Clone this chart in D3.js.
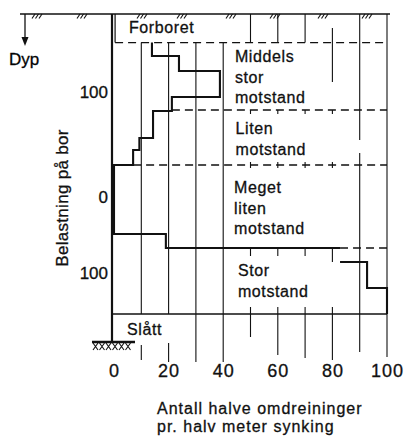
<!DOCTYPE html>
<html>
<head>
<meta charset="utf-8">
<script src="https://cdn.jsdelivr.net/npm/d3@7"></script>
<style>
  body { margin: 0; background: #fff; }
  svg { display: block; font-family: "Liberation Sans", Arial, Helvetica, sans-serif; }
  svg text { stroke: #111; stroke-width: 0.3px; }
</style>
</head>
<body>
<div id="chart"></div>
<script>
// sounding profile: count (halve omdreininger) vs depth
const profileDepth1 = [1.43, 2.1, 2.85, 4.15, 4.85, 6.2, 6.8, 7.55, 11.0, 11.7];
const profileCount1 = [13.9, 23.8, 38.8, 21.2, 14.3, 9.3, 7.0, 0, 19.0, 82.8];
const profileDepth2 = [12.4, 12.4, 13.7, 15.0];
const profileCount2 = [82.8, 92.7, 100, 100];

// soil layers
const layerTop = [0, 1.43, 4.8, 7.55, 11.7, 15.0];
const layerText = [["Forboret"], ["Middels", "stor", "motstand"], ["Liten", "motstand"],
                   ["Meget", "liten", "motstand"], ["Stor", "motstand"], ["Slått"]];
const boundaryFrom = [0.4, 21.2, 7.0, 82.8];   // where the dashed boundary starts

const xTicks = [0, 20, 40, 60, 80, 100];
const loadLabels = ["100", "0", "100"];
const loadDepth = [4.2, 9.45, 13.25];

// set the dimensions and margins of the graph
const margin = {top: 14, right: 18, bottom: 74, left: 114},
    width = 405,
    height = 438;

var svg = d3.select("#chart")
    .append("svg")
        .attr("width", width)
        .attr("height", height);

var x = d3.scaleLinear()
    .domain([0, 100])
    .range([margin.left, width - margin.right]);

var y = d3.scaleLinear()
    .domain([0, 17.5])
    .range([margin.top, height - margin.bottom]);

const ink = "#111";

// vertical grid lines (pieces, in depth units)
const grid = [
    [10, [[1.43, 15.0], [16.55, 17.3]]],
    [20, [[1.43, 15.0], [16.45, 17.4]]],
    [30, [[1.43, 17.4]]],
    [40, [[1.43, 17.4]]],
    [50, [[0, 1.43], [4.8, 5.0], [7.4, 7.7], [11.7, 12.1], [14.65, 16.15]]],
    [60, [[0, 1.43], [4.8, 5.0], [7.4, 7.7], [11.7, 12.1], [14.65, 17.05]]],
    [70, [[0, 1.43], [4.8, 5.0], [7.4, 7.7], [11.7, 12.1], [14.65, 17.2]]],
    [80, [[0.7, 3.4], [4.8, 5.0], [7.4, 7.7], [11.7, 12.4], [14.65, 17.3]]],
    [90, [[0, 6.3], [6.95, 16.9]]],
    [100, [[0, 17.15]]]
];
grid.forEach(function(g) {
    g[1].forEach(function(p) {
        svg.append("line")
            .attr("x1", x(g[0])).attr("x2", x(g[0]))
            .attr("y1", y(p[0])).attr("y2", y(p[1]))
            .attr("stroke", ink).attr("stroke-width", 1.1);
    });
});

// ground line with hatching
svg.append("line")
    .attr("x1", 20).attr("x2", 390)
    .attr("y1", y(0)).attr("y2", y(0))
    .attr("stroke", ink).attr("stroke-width", 1.6);
[32, 77, 137, 177, 226, 270, 318, 362].forEach(function(gx) {
    for (var k = 0; k < 3; k++) {
        svg.append("line")
            .attr("x1", gx + k * 3.5).attr("y1", y(0) + 4.5)
            .attr("x2", gx + k * 3.5 + 3).attr("y2", y(0))
            .attr("stroke", ink).attr("stroke-width", 1.1);
    }
});

// depth arrow
svg.append("line")
    .attr("x1", 25).attr("x2", 25)
    .attr("y1", y(0)).attr("y2", 40)
    .attr("stroke", ink).attr("stroke-width", 1.3);
svg.append("path")
    .attr("d", "M21.5,37 L28.5,37 L25,46 Z")
    .attr("fill", ink);
svg.append("text")
    .attr("x", 9).attr("y", 65)
    .style("font-size", "17px")
    .text("Dyp");

// main axis
svg.append("line")
    .attr("x1", x(0) - 2).attr("x2", x(0) - 2)
    .attr("y1", y(0)).attr("y2", y(16.4))
    .attr("stroke", ink).attr("stroke-width", 2.2);

// ground symbol at the bottom (Slått)
svg.append("line")
    .attr("x1", 92).attr("x2", 135)
    .attr("y1", y(16.4)).attr("y2", y(16.4))
    .attr("stroke", ink).attr("stroke-width", 2.4);
for (var hx = 93; hx < 132; hx += 6.5) {
    svg.append("path")
        .attr("d", "M" + hx + "," + (y(16.4) + 1) + " l5,7 M" + (hx + 5) + "," + (y(16.4) + 1) + " l-5,7")
        .attr("stroke", ink).attr("stroke-width", 1.1).attr("fill", "none");
}

// Forboret box edge
svg.append("line")
    .attr("x1", x(boundaryFrom[0])).attr("x2", x(boundaryFrom[0]))
    .attr("y1", y(0)).attr("y2", y(layerTop[1]))
    .attr("stroke", ink).attr("stroke-width", 1.2);

// layer boundaries
boundaryFrom.forEach(function(v, i) {
    svg.append("line")
        .attr("x1", x(v)).attr("x2", x(100))
        .attr("y1", y(layerTop[i + 1])).attr("y2", y(layerTop[i + 1]))
        .attr("stroke", ink).attr("stroke-width", 1.3)
        .attr("stroke-dasharray", "8,5");
});
svg.append("line")
    .attr("x1", x(0) - 3).attr("x2", x(100))
    .attr("y1", y(layerTop[5])).attr("y2", y(layerTop[5]))
    .attr("stroke", ink).attr("stroke-width", 1.5);

// profile
var line = d3.line()
    .x(function(d) { return x(d[0]); })
    .y(function(d) { return y(d[1]); })
    .curve(d3.curveStepBefore);
[[profileCount1, profileDepth1], [profileCount2, profileDepth2]].forEach(function(s) {
    svg.append("path")
        .datum(d3.zip(s[0], s[1]))
        .attr("d", line)
        .attr("fill", "none")
        .attr("stroke", ink)
        .attr("stroke-width", 2.1);
});

// layer labels
const labelX = [5.5, 44.3, 44.5, 44.0, 45.4, 4.8];
const labelDepth = [0.95, 2.4, 6.0, 8.95, 13.1, 16.05];
layerText.forEach(function(lines, i) {
    lines.forEach(function(t, j) {
        svg.append("text")
            .attr("x", x(labelX[i]))
            .attr("y", y(labelDepth[i] + j * 1.03))
            .style("font-size", "16px")
            .style("letter-spacing", "0.6px")
            .attr("fill", ink)
            .text(t);
    });
});

// X axis labels
var xAxis = svg.append("g")
    .attr("transform", "translate(0,377)")
    .call(d3.axisBottom(x).tickValues(xTicks).tickSize(0));
xAxis.select(".domain").remove();
xAxis.selectAll("text")
    .attr("y", 0).attr("dy", 0)
    .attr("fill", ink)
    .style("font-size", "18px")
    .style("font-family", "'Liberation Sans', Arial, sans-serif")
    .style("letter-spacing", "1px");

// load labels on the left
loadLabels.forEach(function(t, i) {
    svg.append("text")
        .attr("x", 108)
        .attr("y", y(loadDepth[i]))
        .attr("text-anchor", "end")
        .style("font-size", "17px")
        .attr("fill", ink)
        .text(t);
});
svg.append("text")
    .attr("transform", "translate(68,198) rotate(-90)")
    .attr("text-anchor", "middle")
    .style("font-size", "17px")
    .style("letter-spacing", "0.3px")
    .attr("fill", ink)
    .text("Belastning på bor");

// X axis title
svg.append("text")
    .attr("x", 157).attr("y", 414)
    .style("font-size", "16px")
    .style("letter-spacing", "1px")
    .attr("fill", ink)
    .text("Antall halve omdreininger");
svg.append("text")
    .attr("x", 157).attr("y", 432)
    .style("font-size", "16px")
    .style("letter-spacing", "1px")
    .attr("fill", ink)
    .text("pr. halv meter synking");
</script>
</body>
</html>
